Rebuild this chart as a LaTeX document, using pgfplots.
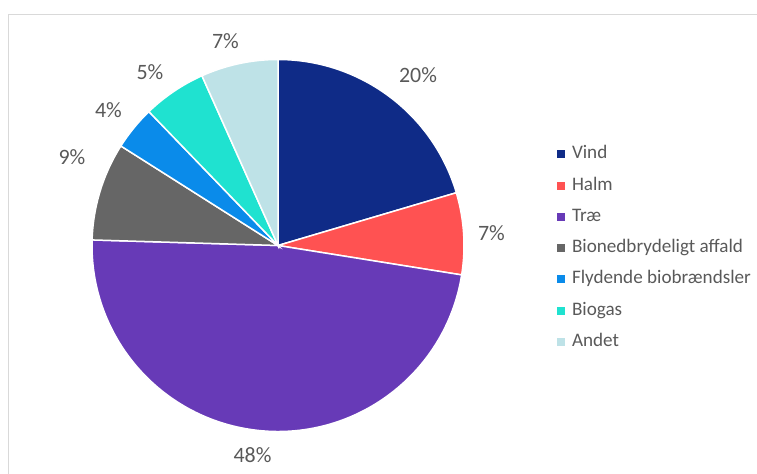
\documentclass[border=0pt]{standalone}
\usepackage{fontspec}
\setmainfont{Carlito}
\usepackage{pgfplots}
\usepackage{pgfplotstable}
\pgfplotsset{compat=1.18}

\definecolor{cVind}{HTML}{0F2B87}
\definecolor{cHalm}{HTML}{FF5252}
\definecolor{cTrae}{HTML}{673AB7}
\definecolor{cBio}{HTML}{666666}
\definecolor{cFlyd}{HTML}{0A8BEA}
\definecolor{cBiogas}{HTML}{1FE2D0}
\definecolor{cAndet}{HTML}{BEE2E7}
\definecolor{txtgray}{HTML}{595959}
\definecolor{framegray}{HTML}{D9D9D9}

\pgfplotstableread{
name value
Vind 20.4
Halm 7.1
Trae 47.9
Bionedbrydeligt 8.5
Flydende 3.8
Biogas 5.5
Andet 6.7
}\piedata

\newcommand\getv[2]{\pgfplotstablegetelem{#1}{value}\of\piedata\let#2\pgfplotsretval}
\getv{0}\vA\getv{1}\vB\getv{2}\vC\getv{3}\vD\getv{4}\vE\getv{5}\vF\getv{6}\vG
\pgfmathsetmacro\tot{\vA+\vB+\vC+\vD+\vE+\vF+\vG}
\pgfmathsetmacro\aA{90}
\pgfmathsetmacro\aB{\aA-\vA/\tot*360}
\pgfmathsetmacro\aC{\aB-\vB/\tot*360}
\pgfmathsetmacro\aD{\aC-\vC/\tot*360}
\pgfmathsetmacro\aE{\aD-\vD/\tot*360}
\pgfmathsetmacro\aF{\aE-\vE/\tot*360}
\pgfmathsetmacro\aG{\aF-\vF/\tot*360}
\pgfmathsetmacro\aH{\aG-\vG/\tot*360}
\newcommand\slice[3]{%
  \fill[#3, draw=white, line width=1.5bp] (axis cs:278,-245.5) -- ([shift={(#1:186bp)}]axis cs:278,-245.5) arc[start angle=#1, end angle=#2, radius=186bp] -- cycle;}

\begin{document}%
\begin{tikzpicture}
\begin{axis}[
  x=1bp, y=1bp,
  xmin=0, xmax=757, ymin=-474, ymax=0,
  hide axis, scale only axis, clip=false,
  legend image code/.code={\fill[#1] (0bp,-4bp) rectangle (8bp,4bp);},
  legend cell align=left,
  legend style={draw=none, fill=none, inner sep=0pt, outer sep=0pt,
    at={(axis cs:557,-146)}, anchor=north west,
    font=\fontsize{19.2}{22}\selectfont, text=txtgray,
    row sep=14.25bp,
    nodes={inner sep=0pt, text height=13bp, text depth=4bp},
    /tikz/every odd column/.append style={column sep=7bp}},
]
\draw[framegray, line width=1.5bp] (axis cs:8.5,-474) -- (axis cs:8.5,-14.5) -- (axis cs:757,-14.5);
\slice{\aA}{\aB}{cVind}
\slice{\aB}{\aC}{cHalm}
\slice{\aC}{\aD}{cTrae}
\slice{\aD}{\aE}{cBio}
\slice{\aE}{\aF}{cFlyd}
\slice{\aF}{\aG}{cBiogas}
\slice{\aG}{\aH}{cAndet}
\addlegendimage{fill=cVind, draw=none}\addlegendentry{Vind}
\addlegendimage{fill=cHalm, draw=none}\addlegendentry{Halm}
\addlegendimage{fill=cTrae, draw=none}\addlegendentry{Træ}
\addlegendimage{fill=cBio, draw=none}\addlegendentry{Bionedbrydeligt affald}
\addlegendimage{fill=cFlyd, draw=none}\addlegendentry{Flydende biobrændsler}
\addlegendimage{fill=cBiogas, draw=none}\addlegendentry{Biogas}
\addlegendimage{fill=cAndet, draw=none}\addlegendentry{Andet}
\begin{scope}[every node/.style={font=\fontsize{22}{26}\selectfont, text=txtgray, inner sep=0pt}]
\node at (axis cs:418,-75.5) {20\%};
\node at (axis cs:491.5,-233) {7\%};
\node at (axis cs:252.5,-455) {48\%};
\node at (axis cs:72,-157) {9\%};
\node at (axis cs:108.5,-110.5) {4\%};
\node at (axis cs:150,-72) {5\%};
\node at (axis cs:225.5,-41.5) {7\%};
\end{scope}
\end{axis}
\pgfresetboundingbox
\path (current axis.south west) rectangle (current axis.north east);
\end{tikzpicture}%
\end{document}
